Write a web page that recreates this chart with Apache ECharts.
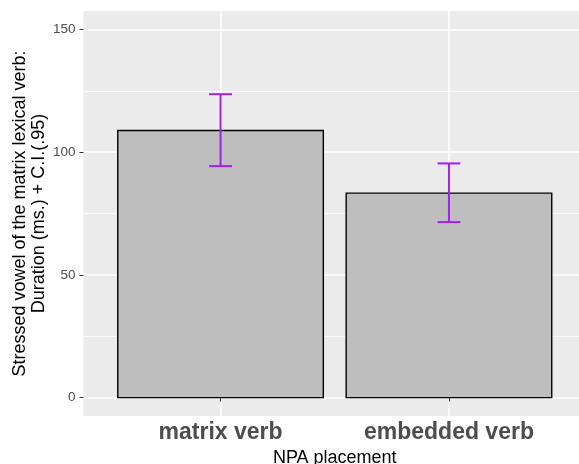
<!DOCTYPE html>
<html>
<head>
<meta charset="utf-8">
<title>NPA placement</title>
<script src="https://cdn.jsdelivr.net/npm/echarts@6/dist/echarts.min.js"></script>
<style>
  html, body { margin: 0; padding: 0; background: #fff; }
  #chart { width: 579px; height: 464px; }
</style>
</head>
<body>
<div id="chart"></div>
<script>
// data
var categories = ['matrix verb', 'embedded verb'];
var positions = [1, 2];
var means = [108.8, 83.3];
var ciLow = [94.3, 71.5];
var ciHigh = [123.6, 95.4];
var yTicks = [0, 50, 100, 150];
var yMinor = [25, 75, 125];

var font = 'Liberation Sans, Arial, Helvetica, sans-serif';

var barData = positions.map(function (p, i) { return [p, means[i]]; });
var errData = positions.map(function (p, i) { return [p, ciLow[i], ciHigh[i]]; });

var option = {
  animation: false,
  grid: { left: 83.5, top: 11, width: 502.5, height: 405, show: true,
          backgroundColor: '#EBEBEB', borderWidth: 0,
          outerBoundsMode: 'none', containLabel: false },
  xAxis: {
    type: 'value', min: 0.4, max: 2.6,
    name: 'NPA placement', nameLocation: 'middle', nameGap: 29,
    nameTextStyle: { color: '#000', fontSize: 18, fontFamily: font },
    axisLine: { show: false },
    axisTick: { show: true, length: 4, customValues: positions,
                lineStyle: { color: '#333', width: 1 } },
    axisLabel: { customValues: positions, margin: 5,
                 color: '#4D4D4D', fontSize: 23, fontWeight: 'bold', fontFamily: font,
                 formatter: function (v) { return categories[positions.indexOf(v)]; } },
    splitLine: { show: true, lineStyle: { color: '#fff', width: 1.5 } }
  },
  yAxis: [{
    type: 'value', min: -7.5, max: 157.5,
    name: 'Stressed vowel of the matrix lexical verb:\nDuration (ms.) + C.I.(.95)',
    nameLocation: 'middle', nameGap: 35, nameMoveOverlap: false,
    nameTextStyle: { color: '#000', fontSize: 18, lineHeight: 19, fontFamily: font },
    axisLine: { show: false },
    axisTick: { show: true, length: 4, customValues: yTicks,
                lineStyle: { color: '#333', width: 1 } },
    axisLabel: { customValues: yTicks, margin: 8,
                 color: '#4D4D4D', fontSize: 13.5, fontFamily: font },
    splitLine: { show: true, lineStyle: { color: '#fff', width: 1.5 } }
  }, {
    type: 'value', min: -7.5, max: 157.5, position: 'left',
    axisLine: { show: false },
    axisTick: { show: false, customValues: yMinor },
    axisLabel: { show: false, customValues: yMinor },
    splitLine: { show: true, lineStyle: { color: '#fff', width: 0.7 } }
  }],
  series: [{
    type: 'custom',
    data: barData,
    renderItem: function (params, api) {
      var x = api.value(0), y = api.value(1);
      var p1 = api.coord([x - 0.45, y]);
      var p2 = api.coord([x + 0.45, 0]);
      return {
        type: 'rect',
        shape: { x: p1[0], y: p1[1], width: p2[0] - p1[0], height: p2[1] - p1[1] },
        style: { fill: '#BEBEBE', stroke: '#000', lineWidth: 1.4 }
      };
    },
    z: 3
  }, {
    type: 'custom',
    data: errData,
    renderItem: function (params, api) {
      var x = api.value(0), lo = api.value(1), hi = api.value(2);
      var top = api.coord([x, hi]), bot = api.coord([x, lo]);
      var tl = api.coord([x - 0.05, hi]), tr = api.coord([x + 0.05, hi]);
      var bl = api.coord([x - 0.05, lo]), br = api.coord([x + 0.05, lo]);
      var st = { stroke: '#A020F0', lineWidth: 2 };
      return {
        type: 'group',
        children: [
          { type: 'line', shape: { x1: top[0], y1: top[1], x2: bot[0], y2: bot[1] }, style: st },
          { type: 'line', shape: { x1: tl[0], y1: tl[1], x2: tr[0], y2: tr[1] }, style: st },
          { type: 'line', shape: { x1: bl[0], y1: bl[1], x2: br[0], y2: br[1] }, style: st }
        ]
      };
    },
    z: 4
  }]
};

var chart = echarts.init(document.getElementById('chart'));
chart.setOption(option);
</script>
</body>
</html>
